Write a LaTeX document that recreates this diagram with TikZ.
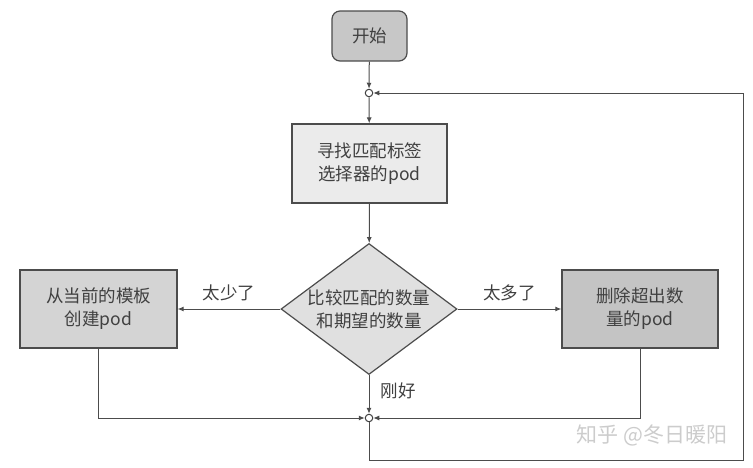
\documentclass[tikz,border=0pt]{standalone}
\usepackage{fontspec}
\newfontfamily\cjk{Noto Sans CJK SC}
\usetikzlibrary{shapes.geometric,arrows.meta}
\tikzset{
  box/.style={draw=black!70,line width=1.2pt,align=center,inner sep=0pt},
  joint/.style={circle,draw=black!75,fill=white,line width=1pt,inner sep=0pt,minimum size=7.5pt},
  line/.style={draw=black!70,line width=1pt},
  arr/.style={line,-{Latex[length=6pt,width=5pt]}}
}
\begin{document}
\begin{tikzpicture}[x=1pt,y=-1pt,font=\cjk\fontsize{17.5}{23}\selectfont,text=black!75]
    \useasboundingbox (0,0) rectangle (753,467);
    % nodes
    \node[box,rounded corners=8pt,fill=black!22,minimum width=75pt,minimum height=50pt] (start) at (369.5,36) {开始};
    \node[joint] (top) at (369,93) {};
    \node[box,fill=black!8,minimum width=155pt,minimum height=79pt] (find) at (369.5,163.5) {寻找匹配标签\\选择器的pod};
    \node[box,diamond,fill=black!12,shape aspect=1.34,inner sep=-8pt,minimum width=176pt,minimum height=131pt] (cmp) at (369,309) {比较匹配的数量\\和期望的数量};
    \node[box,fill=black!17,minimum width=157pt,minimum height=78pt] (create) at (98.5,309) {从当前的模板\\创建pod};
    \node[box,fill=black!23,minimum width=156pt,minimum height=78pt] (delete) at (640,309) {删除超出数\\量的pod};
    \node[joint] (bot) at (369,418) {};
    \coordinate (c1) at (369,460);
    \coordinate (c2) at (743,460);
    \coordinate (c3) at (743,93);
    % connectors
    \draw[arr] (start) -- (top);
    \draw[arr] (top) -- (find);
    \draw[arr] (find) -- (cmp);
    \draw[arr] (cmp) -- node[above=4pt] (few) {太少了} (create);
    \draw[arr] (cmp) -- node[above=4pt] (many) {太多了} (delete);
    \draw[arr] (cmp) -- node[right=8pt,pos=.4] (ok) {刚好} (bot);
    \draw[arr] (create.south) |- (bot);
    \draw[arr] (delete.south) |- (bot);
    \draw[arr] (bot) -- (c1) -- (c2) -- (c3) -- (top);
    \node[text=black!20,font=\cjk\fontsize{21}{24}\selectfont] (mark) at (652,435) {知乎 @冬日暖阳};
\end{tikzpicture}
\end{document}
